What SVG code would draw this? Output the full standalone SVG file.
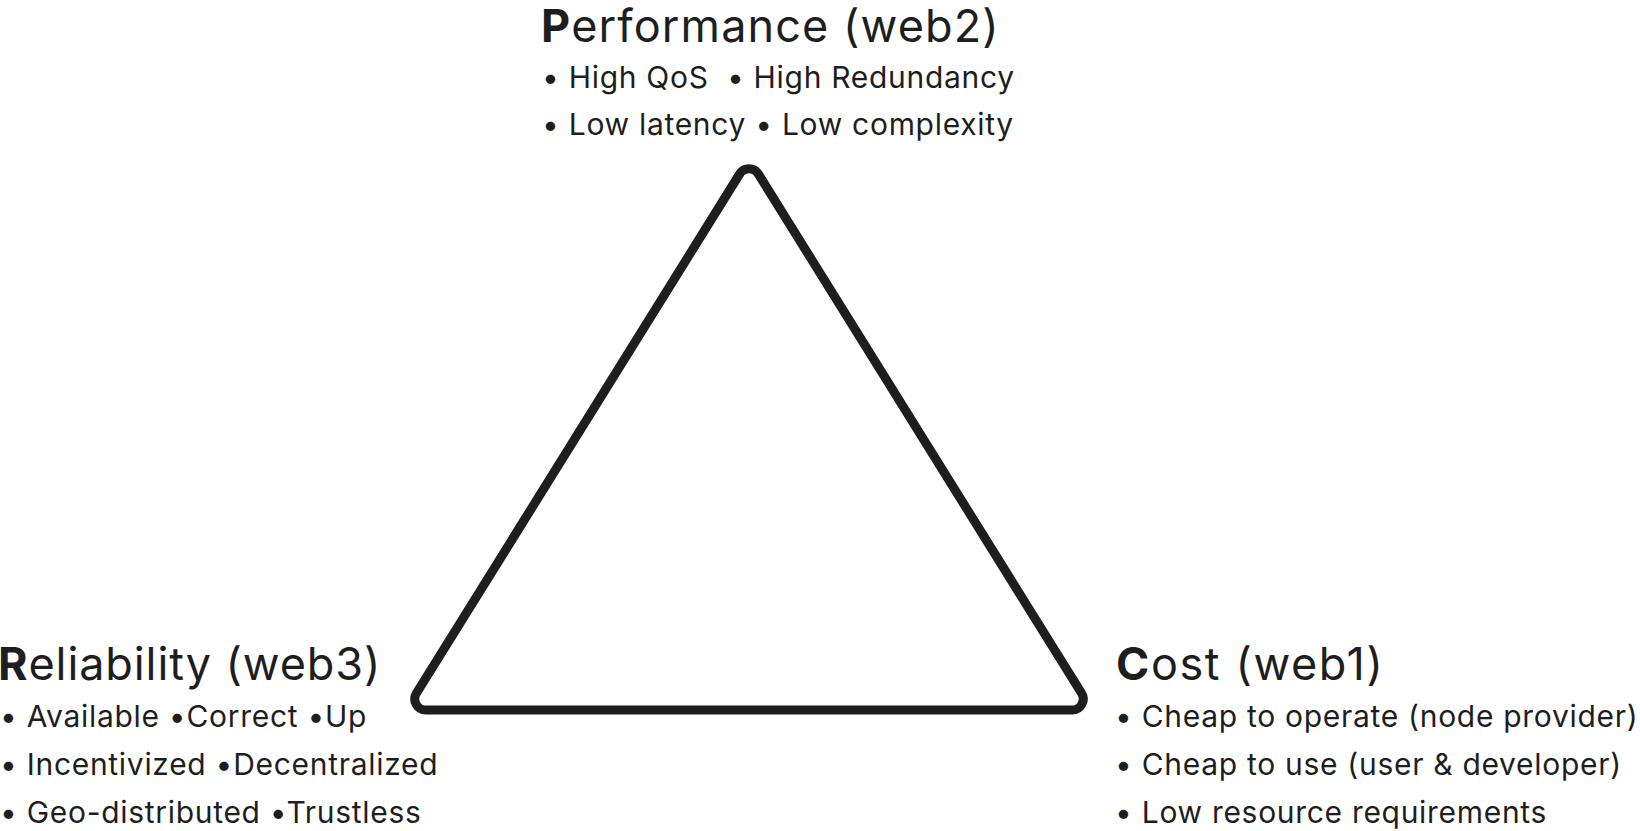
<svg xmlns="http://www.w3.org/2000/svg" width="1640" height="831" viewBox="0 0 1640 831">
<style>
text { font-family: Inter, "Noto Sans", "Liberation Sans", sans-serif; fill: #1e1e1e; white-space: pre; }
.title { font-size: 45px; font-weight: 400; letter-spacing: 1.1px; }
.title tspan.b { font-weight: 700; }
.item { font-size: 30px; font-weight: 400; letter-spacing: 0.7px; }
.tri { fill: none; stroke: #1e1e1e; stroke-width: 9; stroke-linejoin: round; }
</style>
<rect width="1640" height="831" fill="#ffffff"/>
<g id="connectors">
<path class="tri" d="M 739.66 174 A 11 11 0 0 1 758.34 174 L 1081.54 693.19 A 11 11 0 0 1 1072.2 710 L 425.8 710 A 11 11 0 0 1 416.46 693.19 Z"/>
</g>
<g id="performance">
<text class="title" x="541" y="42"><tspan class="b">P</tspan>erformance (web2)</text>
<text class="item" x="542" y="88" xml:space="preserve">• High QoS  • High Redundancy</text>
<text class="item" x="542" y="135">• Low latency • Low complexity</text>
</g>
<g id="reliability">
<text class="title" x="-2" y="680" style="letter-spacing:0.9px"><tspan class="b">R</tspan>eliability (web3)</text>
<text class="item" x="0" y="727">• Available •Correct •Up</text>
<text class="item" x="0" y="775">• Incentivized •Decentralized</text>
<text class="item" x="0" y="823">• Geo-distributed •Trustless</text>
</g>
<g id="cost">
<text class="title" x="1116" y="680" style="letter-spacing:1.6px"><tspan class="b">C</tspan>ost (web1)</text>
<text class="item" x="1115" y="727">• Cheap to operate (node provider)</text>
<text class="item" x="1115" y="775">• Cheap to use (user &amp; developer)</text>
<text class="item" x="1115" y="823">• Low resource requirements</text>
</g>
</svg>
